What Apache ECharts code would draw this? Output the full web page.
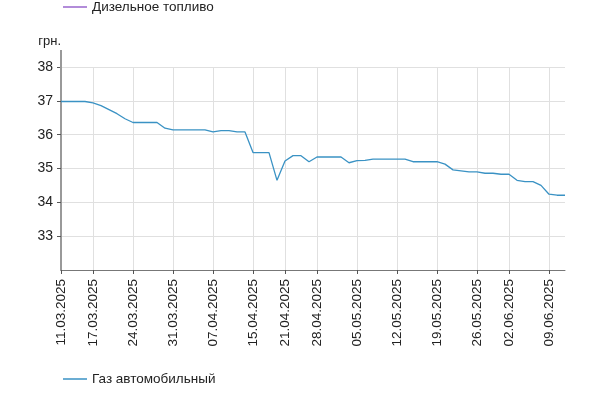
<!DOCTYPE html>
<html>
<head>
<meta charset="utf-8">
<script src="https://cdn.jsdelivr.net/npm/echarts@6/dist/echarts.min.js"></script>
<style>
  html, body { margin: 0; padding: 0; background: #fff; }
  #chart { width: 612px; height: 399px; }
</style>
</head>
<body>
<div id="chart"></div>
<script>
// dates (working days in the source)
const dates = [
    '11.03.2025', '12.03.2025', '13.03.2025', '14.03.2025',
    '17.03.2025', '18.03.2025', '19.03.2025', '20.03.2025', '21.03.2025',
    '24.03.2025', '25.03.2025', '26.03.2025', '27.03.2025', '28.03.2025',
    '31.03.2025', '01.04.2025', '02.04.2025', '03.04.2025', '04.04.2025',
    '07.04.2025', '08.04.2025', '09.04.2025', '10.04.2025', '11.04.2025',
    '15.04.2025', '16.04.2025', '17.04.2025', '18.04.2025',
    '21.04.2025', '22.04.2025', '23.04.2025', '24.04.2025',
    '28.04.2025', '29.04.2025', '30.04.2025', '01.05.2025', '02.05.2025',
    '05.05.2025', '06.05.2025', '07.05.2025', '08.05.2025', '09.05.2025',
    '12.05.2025', '13.05.2025', '14.05.2025', '15.05.2025', '16.05.2025',
    '19.05.2025', '20.05.2025', '21.05.2025', '22.05.2025', '23.05.2025',
    '26.05.2025', '27.05.2025', '28.05.2025', '29.05.2025',
    '02.06.2025', '03.06.2025', '04.06.2025', '05.06.2025', '06.06.2025',
    '09.06.2025', '10.06.2025', '11.06.2025'
];

// labels shown on the axis (first day of each week)
const weekLabels = [
    '11.03.2025', '17.03.2025', '24.03.2025', '31.03.2025', '07.04.2025',
    '15.04.2025', '21.04.2025', '28.04.2025', '05.05.2025', '12.05.2025',
    '19.05.2025', '26.05.2025', '02.06.2025', '09.06.2025'
];

const gasValues = [
    36.98, 36.98, 36.98, 36.98,
    36.94, 36.86, 36.74, 36.62, 36.47,
    36.36, 36.36, 36.36, 36.36, 36.19,
    36.14, 36.14, 36.14, 36.14, 36.14,
    36.08, 36.12, 36.12, 36.08, 36.08,
    35.47, 35.47, 35.47, 34.65,
    35.22, 35.38, 35.38, 35.20,
    35.34, 35.34, 35.34, 35.34, 35.17,
    35.23, 35.24, 35.28, 35.28, 35.28,
    35.28, 35.28, 35.20, 35.20, 35.20,
    35.20, 35.13, 34.96, 34.93, 34.90,
    34.90, 34.86, 34.86, 34.83,
    34.83, 34.65, 34.61, 34.61, 34.50,
    34.24, 34.21, 34.21
];

const dieselValues = []; // no points inside the visible range

const seriesNames = ['Дизельное топливо', 'Газ автомобильный'];

const chart = echarts.init(document.getElementById('chart'));
const isWeekStart = (idx, value) => weekLabels.includes(value !== undefined ? value : dates[idx]);
const font = 'Liberation Sans, Arial, sans-serif';

const legendCommon = {
    icon: 'rect',
    itemWidth: 24, itemHeight: 1.5, itemGap: 4,
    textStyle: { fontFamily: font, fontSize: 13.5, color: '#222' }
};

chart.setOption({
    animation: false,
    textStyle: { fontFamily: font },
    legend: [
        Object.assign({ data: [seriesNames[0]], left: 58, top: -5 }, legendCommon),
        Object.assign({ data: [seriesNames[1]], left: 58, top: 367 }, legendCommon)
    ],
    grid: { left: 61, right: 47, top: 67, bottom: 129, containLabel: false },
    xAxis: {
        type: 'category',
        data: dates,
        boundaryGap: false,
        axisLine: { lineStyle: { color: '#777', width: 1 } },
        axisTick: { interval: isWeekStart, length: 4, lineStyle: { color: '#555' } },
        axisLabel: {
            interval: isWeekStart,
            rotate: 90,
            margin: 9,
            fontFamily: font, fontSize: 13.5, color: '#222'
        },
        splitLine: { show: true, interval: isWeekStart, lineStyle: { color: '#e0e0e0' } }
    },
    yAxis: {
        type: 'value',
        min: 32, max: 38, interval: 1,
        name: 'грн.',
        nameLocation: 'end',
        nameGap: 19,
        nameTextStyle: { align: 'right', fontFamily: font, fontSize: 13, color: '#222' },
        axisLine: {
            show: true,
            // the axis line runs a bit above the last grid line
            symbol: ['none', 'rect'], symbolSize: [2, 34],
            lineStyle: { color: '#999', width: 2 }
        },
        axisTick: { show: true, length: 4, lineStyle: { color: '#555' } },
        axisLabel: {
            showMinLabel: false,
            margin: 8,
            fontFamily: font, fontSize: 14, color: '#222'
        },
        splitLine: { lineStyle: { color: '#e0e0e0' } }
    },
    series: [
        {
            name: seriesNames[0], type: 'line', data: dieselValues,
            symbol: 'none', lineStyle: { color: '#9966cc', width: 1.3 },
            itemStyle: { color: '#9966cc' }
        },
        {
            name: seriesNames[1], type: 'line', data: gasValues,
            symbol: 'none', lineStyle: { color: '#3a92c4', width: 1.3 },
            itemStyle: { color: '#3a92c4' }
        }
    ]
});

window.addEventListener('resize', () => chart.resize());
</script>
</body>
</html>
